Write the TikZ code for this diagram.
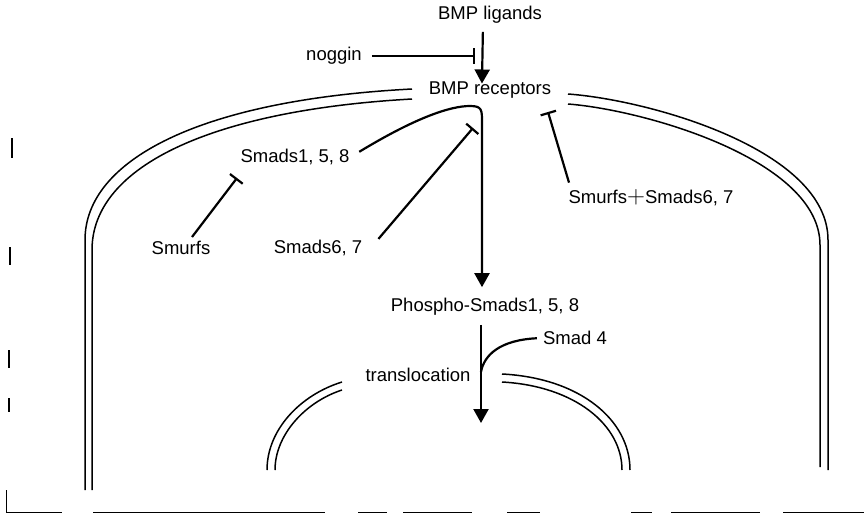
\documentclass[tikz,border=0pt]{standalone}
\usepackage{fontspec}
\setmainfont{Liberation Sans}
\usetikzlibrary{arrows.meta}

\begin{document}
\begin{tikzpicture}[x=1pt,y=-1pt, inner sep=1pt,
  lbl/.style={font=\fontsize{18.5}{22}\selectfont},
  act/.style={line width=2.2pt,-{Triangle[width=15pt,length=14pt]}},
  inh/.style={line width=2.2pt,-{Bar[width=16pt,line width=2.2pt]}},
  memb/.style={line width=1.5pt}]
\useasboundingbox (0,0) rectangle (864,522);
% labels
\node (lig) at (490,15) [lbl] {BMP ligands};
\node (nog) at (334,56) [lbl] {noggin};
\node (rec) at (490,90) [lbl] {BMP receptors};
\node (s158) at (295,157) [lbl] {Smads1, 5, 8};
\node (smurf) at (181,248) [lbl] {Smurfs};
\node (s67) at (318,248) [lbl] {Smads6, 7};
\node (ss67) at (651,198) [lbl] {Smurfs{\fontsize{23}{23}\selectfont$+$}Smads6, 7};
\node (phos) at (485,307) [lbl] {Phospho-Smads1, 5, 8};
\node (s4) at (575,338) [lbl] {Smad 4};
\node (transl) at (418,375) [lbl] {translocation};
% ends of connectors
\coordinate (nogbar) at (475,56);
\coordinate (top) at (482,122);
\coordinate (s67bar) at (473,128);
\coordinate (smurfbar) at (237,178);
\coordinate (ss67bar) at (548,112);
\coordinate (join) at (481,372);
\coordinate (nuc) at (481,423);
% cell membrane
\draw[memb] (412,89) .. controls (200,100) and (85,160) .. (85,240) -- (85,490);
\draw[memb] (412,99) .. controls (215,110) and (92,165) .. (92,250) -- (92,490);
\draw[memb] (568,94) .. controls (650,100) and (828,150) .. (828,240) -- (828,470);
\draw[memb] (568,104) .. controls (645,110) and (820,160) .. (820,245) -- (820,467);
% nuclear membrane
\draw[memb] (342,382) .. controls (300,395) and (267,430) .. (267,470);
\draw[memb] (342,390) .. controls (305,402) and (275,435) .. (275,470);
\draw[memb] (502,374) .. controls (580,378) and (630,420) .. (630,470);
\draw[memb] (502,382) .. controls (575,386) and (622,425) .. (622,470);
% signalling
\draw[inh, shorten <=9pt] (nog.east) -- (nogbar);
\draw[act, shorten <=7pt, shorten >=-3pt] (lig.south -| nogbar) ++(8,0) -- (rec.north -| top);
\draw[act, shorten <=10pt, shorten >=10pt] (s158.east) .. controls (415,118) and (450,106) .. (470,106)
  .. controls (482,106) and (482,110) .. (top) -- (phos.north -| top);
\draw[inh] ([xshift=15pt]s67.north east) -- (s67bar);
\draw[inh] ([xshift=11pt,yshift=3pt]smurf.north) -- (smurfbar);
\draw[inh] ([xshift=-82pt,yshift=6pt]ss67.north) -- (ss67bar);
\draw[act, shorten <=8pt] (phos.south -| join) -- (nuc);
\draw[line width=2.2pt, shorten <=5pt] (s4.west) .. controls (500,340) and (484,355) .. (join);
% frame remains at the edges
\draw[line width=1pt] (6,490) -- (6,512) -- (62,512);
\foreach \a/\b in {93/325, 358/387, 403/472, 507/540, 631/652, 671/760, 783/864}
  \draw[line width=1pt] (\a,512) -- (\b,512);
\foreach \a/\b/\c in {12/138/158, 10/247/265, 9/350/368, 9/398/412}
  \draw[line width=1.2pt] (\a,\b) -- (\a,\c);
\end{tikzpicture}
\end{document}
